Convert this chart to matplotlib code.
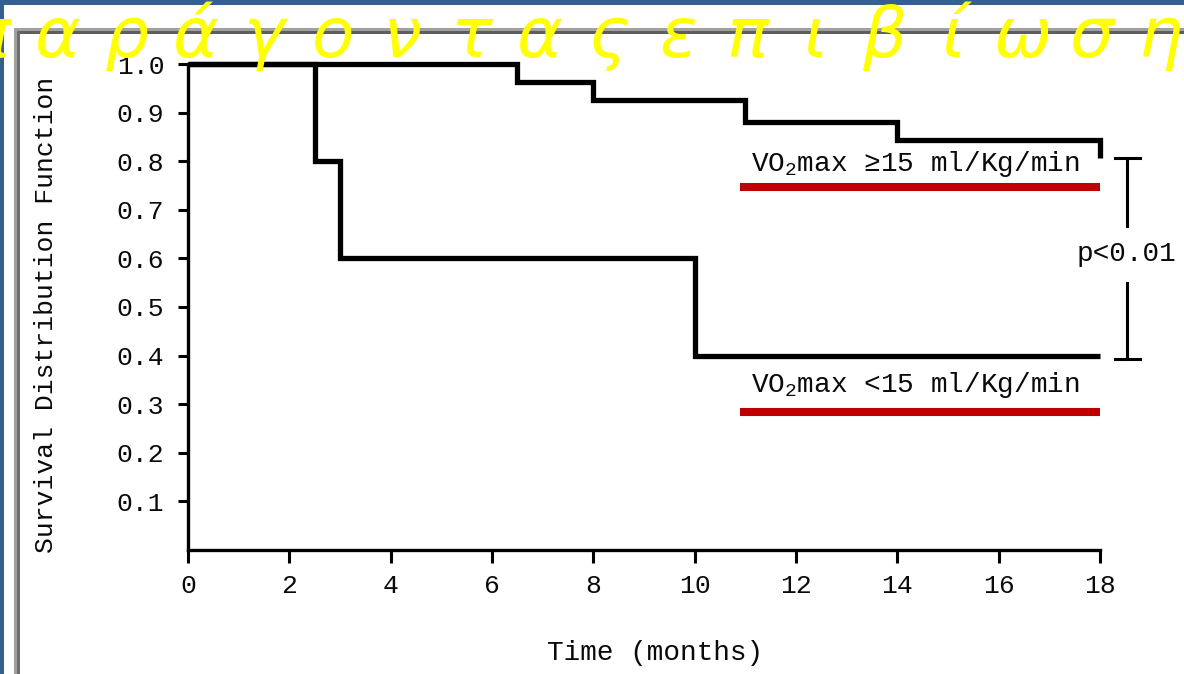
import matplotlib
matplotlib.use("Agg")
import matplotlib.pyplot as plt
from matplotlib.patches import Rectangle

# ---------------- data ----------------
high_time = [0, 6.5, 8, 11, 14, 18, 18]
high_surv = [1.0, 0.963, 0.926, 0.881, 0.844, 0.844, 0.807]
low_time = [0, 2.5, 3.0, 10, 18]
low_surv = [1.0, 0.80, 0.60, 0.40, 0.40]

x_ticks = [0, 2, 4, 6, 8, 10, 12, 14, 16, 18]
y_ticks = [0.1, 0.2, 0.3, 0.4, 0.5, 0.6, 0.7, 0.8, 0.9, 1.0]
y_tick_labels = ["0.1", "0.2", "0.3", "0.4", "0.5", "0.6", "0.7", "0.8", "0.9", "1.0"]

high_label = r"VO$_2$max ≥15 ml/Kg/min"
low_label = r"VO$_2$max <15 ml/Kg/min"
p_label = "p<0.01"
x_label = "Time (months)"
y_label = "Survival Distribution Function"
title_text = "παράγοντας επιβίωσης"

# ---------------- style ----------------
MONO = ["Liberation Mono", "DejaVu Sans Mono"]
plt.rcParams["font.family"] = MONO
plt.rcParams["mathtext.fontset"] = "custom"
plt.rcParams["mathtext.rm"] = "Liberation Mono"
plt.rcParams["mathtext.it"] = "Liberation Mono"
plt.rcParams["mathtext.default"] = "rm"

W, H = 1184, 674
BLUE = "#365f91"
RED = "#c00000"
INK = "#0a0a0a"

fig = plt.figure(figsize=(W / 100, H / 100), dpi=100, facecolor=BLUE)

def fx(x):
    return x / W

def fy(y):
    return 1 - y / H

# white slide panel
fig.patches.append(Rectangle((fx(4), 0), 1 - fx(4), fy(5), transform=fig.transFigure,
                             facecolor="white", edgecolor="none", zorder=-3))
# gray picture frame (top and left)
fig.patches.append(Rectangle((fx(14), fy(31)), 1 - fx(14), 3 / H, transform=fig.transFigure,
                             facecolor="#a0a0a0", edgecolor="none", zorder=-2))
fig.patches.append(Rectangle((fx(14), fy(34)), 1 - fx(14), 3 / H, transform=fig.transFigure,
                             facecolor="#5e5e5e", edgecolor="none", zorder=-2))
fig.patches.append(Rectangle((fx(14), 0), 3 / W, fy(28), transform=fig.transFigure,
                             facecolor="#a0a0a0", edgecolor="none", zorder=-2))
fig.patches.append(Rectangle((fx(17), 0), 3 / W, fy(31), transform=fig.transFigure,
                             facecolor="#6e6e6e", edgecolor="none", zorder=-2))

# axes
ax = fig.add_axes([fx(188), fy(550), fx(1100) - fx(188), fy(64) - fy(550)])
ax.set_zorder(1)
ax.set_facecolor("none")
ax.set_xlim(0, 18)
ax.set_ylim(0, 1)
for s in ("top", "right"):
    ax.spines[s].set_visible(False)
for s in ("left", "bottom"):
    ax.spines[s].set_linewidth(2.4)
    ax.spines[s].set_color("black")

ax.step(high_time, high_surv, where="post", color="black", lw=3.8,
        solid_joinstyle="miter", solid_capstyle="butt", clip_on=False, zorder=4)
ax.step(low_time, low_surv, where="post", color="black", lw=3.8,
        solid_joinstyle="miter", solid_capstyle="butt", clip_on=False, zorder=4)

ax.set_xticks(x_ticks)
ax.set_xticklabels([str(t) for t in x_ticks])
ax.set_yticks(y_ticks)
ax.set_yticklabels(y_tick_labels)
ax.tick_params(axis="y", direction="out", length=7, width=2.2, pad=10, labelsize=19,
               labelcolor=INK)
ax.tick_params(axis="x", direction="out", length=9, width=2.2, pad=8, labelsize=19,
               labelcolor=INK)

# group labels with red underline
lab_x0, lab_x1 = 10.9, 18.0
ax.text((lab_x0 + lab_x1) / 2 - 0.1, high_surv[-1] - 0.012, high_label, ha="center", va="center",
        fontsize=20, color=INK)
ax.plot([lab_x0, lab_x1], [high_surv[-1] - 0.06] * 2, color=RED, lw=5.8,
        solid_capstyle="butt", clip_on=False)
ax.text((lab_x0 + lab_x1) / 2 - 0.1, low_surv[-1] - 0.06, low_label, ha="center", va="center",
        fontsize=20, color=INK)
ax.plot([lab_x0, lab_x1], [low_surv[-1] - 0.116] * 2, color=RED, lw=5.8,
        solid_capstyle="butt", clip_on=False)

# significance bracket
xb = 18.53
top = high_surv[-1]
bot = low_surv[-1] - 0.008
mid = (top + bot) / 2
ax.plot([xb, xb], [top, mid + 0.068], color="black", lw=2.2, clip_on=False)
ax.plot([xb, xb], [mid - 0.05, bot], color="black", lw=2.2, clip_on=False)
ax.plot([xb - 0.24, xb + 0.26], [top, top], color="black", lw=2.2, clip_on=False)
ax.plot([xb - 0.24, xb + 0.26], [bot, bot], color="black", lw=2.2, clip_on=False)
ax.text(xb, mid + 0.01, p_label, ha="center", va="center", fontsize=20, color=INK)

# axis titles
fig.text(fx(655), fy(653), x_label, ha="center", va="center", fontsize=20, color=INK)
fig.text(fx(46), fy(315), y_label, ha="center", va="center", rotation=90,
         fontsize=19, color=INK)

# yellow spaced title (clipped at both sides like the slide)
letters = [c for c in title_text if c != " "]
for i, ch in enumerate(letters):
    fig.text(fx(-11 + i * 68.9), fy(57), ch, ha="center", va="baseline", fontsize=50,
             style="italic", family="DejaVu Sans", color="#ffff00", zorder=6)

fig.savefig("out.png", dpi=100, facecolor=BLUE)
